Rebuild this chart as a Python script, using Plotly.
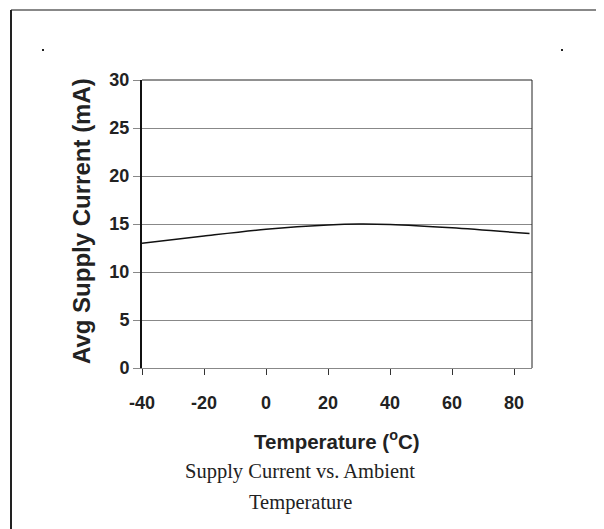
import plotly.graph_objects as go

# readings
temps = [-40, -20, 0, 20, 30, 40, 60, 85]
current = [13.0, 13.75, 14.45, 14.9, 15.0, 14.95, 14.6, 14.0]

x_ticks = [-40, -20, 0, 20, 40, 60, 80]
x_tick_labels = ["-40", "-20", "0", "20", "40", "60", "80"]
y_ticks = [0, 5, 10, 15, 20, 25, 30]

# the page body adds 8px, so the figure is drawn 8px smaller
W, H = 596, 521
L, R, T, B = 134, 72, 72, 161
pw, ph = W - L - R, H - T - B

def px(x):   # page pixel -> paper x
    return (x - 8 - L) / pw

def py(y):   # page pixel -> paper y
    return (H - B - (y - 8)) / ph

fig = go.Figure()
fig.add_trace(go.Scatter(x=temps, y=current, mode="lines",
                         line=dict(color="#111111", width=1.5, shape="spline", smoothing=0.8),
                         showlegend=False, hoverinfo="skip"))

tickfont = dict(family="Liberation Sans, Arial", size=18, color="#222222", weight="bold")

fig.update_layout(
    width=W, height=H,
    margin=dict(l=L, r=R, t=T, b=B),
    paper_bgcolor="white", plot_bgcolor="white",
    xaxis=dict(range=[-40, 85.8], tickvals=x_ticks, ticktext=x_tick_labels,
               showgrid=False, zeroline=False,
               showline=True, linecolor="#888888", linewidth=1,
               ticks="outside", ticklen=6, tickcolor="#333333", tickwidth=1,
               tickfont=tickfont, ticklabelstandoff=12),
    yaxis=dict(range=[0, 30], tickvals=y_ticks, showgrid=True, gridcolor="#888888", gridwidth=1,
               zeroline=False, showline=True, linecolor="#111111", linewidth=2,
               ticks="outside", ticklen=7, tickcolor="#888888", tickwidth=1,
               tickfont=tickfont),
)

# plot frame (top + right)
fig.add_shape(type="line", xref="paper", yref="paper", x0=0, x1=1, y0=1, y1=1,
              line=dict(color="#222222", width=1))
fig.add_shape(type="line", xref="paper", yref="paper", x0=1, x1=1, y0=0, y1=1,
              line=dict(color="#222222", width=1))

# outer page border
fig.add_shape(type="line", xref="paper", yref="paper", x0=px(11), x1=px(600), y0=py(10), y1=py(10),
              line=dict(color="#888888", width=2))
fig.add_shape(type="line", xref="paper", yref="paper", x0=px(11), x1=px(11), y0=py(10), y1=py(535),
              line=dict(color="#222222", width=2))
fig.add_shape(type="line", xref="paper", yref="paper", x0=px(600), x1=px(600), y0=py(10), y1=py(535),
              line=dict(color="#888888", width=2))
# stray dots
for dx in (43, 562):
    fig.add_shape(type="rect", xref="paper", yref="paper", x0=px(dx - 1), x1=px(dx + 1),
                  y0=py(51), y1=py(49), fillcolor="#222222", line=dict(width=0))

centered = dict(xref="paper", yref="paper", showarrow=False, xanchor="center", yanchor="middle")

# axis titles
fig.add_annotation(text="<b>Temperature (<sup>o</sup>C)</b>", x=px(337), y=py(440),
                   font=dict(family="Liberation Sans, Arial", size=20.5, color="#222222"), **centered)
fig.add_annotation(text="<b>Avg Supply Current (mA)</b>", x=px(81), y=py(221), textangle=-90,
                   font=dict(family="Liberation Sans, Arial", size=24, color="#222222"), **centered)

# caption
serif = dict(family="Liberation Serif, Times New Roman", size=20.5, color="#222222")
fig.add_annotation(text="Supply Current vs. Ambient", x=px(300), y=py(471), font=serif, **centered)
fig.add_annotation(text="Temperature", x=px(300), y=py(502), font=serif, **centered)

fig.write_html("out.html")
